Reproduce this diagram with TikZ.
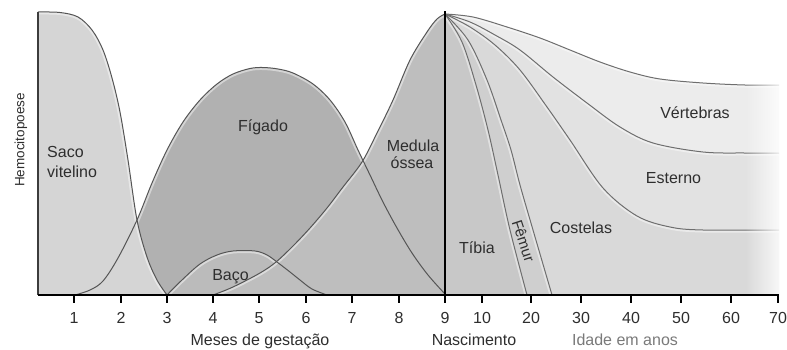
\documentclass[tikz,border=0pt]{standalone}
\usepackage{fontspec}
\setmainfont{Liberation Sans}
\usetikzlibrary{fadings}
\definecolor{cSaco}{HTML}{D5D5D5}
\definecolor{cFig}{HTML}{B1B1B1}
\definecolor{cMed}{HTML}{BEBEBE}
\definecolor{cBaco}{HTML}{BBBBBB}
\definecolor{cTib}{HTML}{C8C8C8}
\definecolor{cFem}{HTML}{CFCFCF}
\definecolor{cCos}{HTML}{D9D9D9}
\definecolor{cEst}{HTML}{E2E2E2}
\definecolor{cVer}{HTML}{ECECEC}
\definecolor{cLine}{HTML}{555555}
\definecolor{cText}{HTML}{2E2E2E}
\definecolor{cGrayText}{HTML}{7A7A7A}
\newcommand\pSaco{plot[smooth,tension=.55] coordinates {(38,12) (60,12.5) (78,17) (92,30) (103,50) (112,78) (120,112) (128,160) (137,220) (147,257) (157,280) (167,295)}}
\newcommand\pFig{plot[smooth,tension=.55] coordinates {(75,295) (90,290) (103,281) (118,258) (137,220) (152,183) (167,150) (183,122) (200,100) (217,84) (233,74) (250,68.5) (263,67.5) (278,69) (293,73) (313,84) (330,100) (345,122) (358,150) (370,175) (383,202) (397,228) (412,253) (428,275) (445,294)}}
\newcommand\pMed{plot[smooth,tension=.55] coordinates {(213,295) (233,287) (260,273) (276,262) (293,246) (310,228) (327,208) (343,187) (362,162) (377,133) (393,100) (410,60) (427,32) (437,19) (445,14)}}
\newcommand\pBaco{plot[smooth,tension=.55] coordinates {(167,295) (182,280) (200,264) (217,255) (233,251) (255,251) (267,255) (277,262) (290,272) (300,280) (312,289) (327,295)}}
\newcommand\pV{plot[smooth,tension=.55] coordinates {(445,14) (473,17) (507,27) (540,38) (570,50) (600,62) (630,72) (660,79) (703,83) (745,85) (779,85)}}
\newcommand\pE{plot[smooth,tension=.55] coordinates {(445,14) (470,22) (495,35) (520,50) (553,77) (587,103) (620,127) (653,143) (703,152) (745,153) (779,153)}}
\newcommand\pC{plot[smooth,tension=.55] coordinates {(445,14) (470,27) (495,45) (520,70) (547,107) (570,140) (603,188) (637,216) (670,227) (703,230) (779,230)}}
\newcommand\pFC{plot[smooth,tension=.55] coordinates {(445,14) (468,40) (487,80) (501,120) (511,150) (520,185) (533,230) (552,295)}}
\newcommand\pTF{plot[smooth,tension=.55] coordinates {(445,14) (462,42) (476,85) (488,130) (498,175) (510,230) (527,295)}}
\newcommand\myregion[3]{%
  \fill[#1] #2;
  \begin{scope}
    \clip #2;
    \draw[white,opacity=.45,line width=5pt] #3;
  \end{scope}}
\begin{document}
\begin{tikzpicture}[x=1pt,y=-1pt,
  lbl/.style={font=\fontsize{16}{19}\selectfont, text=cText, inner sep=0pt},
  curve/.style={draw=cLine, line width=1pt},
  ticklbl/.style={font=\fontsize{16}{19}\selectfont, text=cText, inner sep=0pt, anchor=base}]
\useasboundingbox[fill=white] (0,0) rectangle (787,349);
% left fills
\myregion{cFig}{\pFig -- cycle}{\pFig}
\myregion{cBaco}{\pBaco -- cycle}{\pBaco}
\myregion{cMed}{\pMed -- (445,295) -- cycle}{\pMed}
\myregion{cSaco}{\pSaco -- (38,295) -- cycle}{\pSaco}
% right fills
\myregion{cVer}{\pV -- (779,295) -- (445,295) -- cycle}{\pV}
\myregion{cEst}{\pE -- (779,295) -- (445,295) -- cycle}{\pE}
\myregion{cCos}{\pC -- (779,295) -- (445,295) -- cycle}{\pC}
\myregion{cFem}{\pFC -- (445,295) -- cycle}{\pFC}
\myregion{cTib}{\pTF -- (445,295) -- cycle}{\pTF}
% lines
\draw[curve] \pFig;
\draw[curve] \pBaco;
\draw[curve] \pMed;
\draw[curve] \pSaco;
\draw[curve,draw=cLine!85] \pV;
\draw[curve,draw=cLine!85] \pE;
\draw[curve,draw=cLine!85] \pC;
\draw[curve,draw=cLine!85] \pFC;
\draw[curve,draw=cLine!85] \pTF;
% fade at right edge
\fill[white,path fading=west] (745,8) rectangle (787,297);
% axes
\coordinate (o) at (38,295);
\coordinate (ytop) at (38,12);
\coordinate (xend) at (779,295);
\coordinate (btop) at (445,11);
\coordinate (bbot) at (445,296);
\draw[draw=cLine!70!black, line width=1.6pt] (ytop) -- (o);
\draw[line width=2pt] (o) -- (xend);
\draw[line width=2.6pt] (btop) -- (bbot);
\foreach \x/\l in {74/1,121/2,167/3,213/4,259/5,306/6,352/7,399/8,445/9,482/10,531/20,581/30,631/40,681/50,731/60,778/70}{
  \draw[line width=2pt] (\x,295) -- (\x,303);
  \node[ticklbl] (t\l) at (\x,323) {\l};
}
% axis titles
\node[ticklbl] (meses) at (260,345) {Meses de gestação};
\node[ticklbl] (nasc) at (474,345) {Nascimento};
\node[ticklbl,text=cGrayText] (idade) at (625,345) {Idade em anos};
\node[lbl,font=\fontsize{13.5}{16}\selectfont,rotate=90] (hemo) at (21,140) {Hemocitopoese};
% region labels
\node[lbl,anchor=base west] (saco) at (47,157) {Saco};
\node[lbl,anchor=base west] (vit) at (47,177) {vitelino};
\node[lbl,anchor=base] (fig) at (263,131) {Fígado};
\node[lbl,anchor=base] (baco) at (230.5,280) {Baço};
\node[lbl,anchor=base] (med) at (413,151) {Medula};
\node[lbl,anchor=base] (oss) at (412,168) {óssea};
\node[lbl,anchor=base] (tib) at (477,253) {Tíbia};
\node[lbl,font=\fontsize{15}{18}\selectfont,rotate=-72] (fem) at (523.5,241) {Fêmur};
\node[lbl,anchor=base] (cos) at (581,233) {Costelas};
\node[lbl,anchor=base] (est) at (673.5,183) {Esterno};
\node[lbl,anchor=base] (ver) at (695,118) {Vértebras};
\end{tikzpicture}
\end{document}
